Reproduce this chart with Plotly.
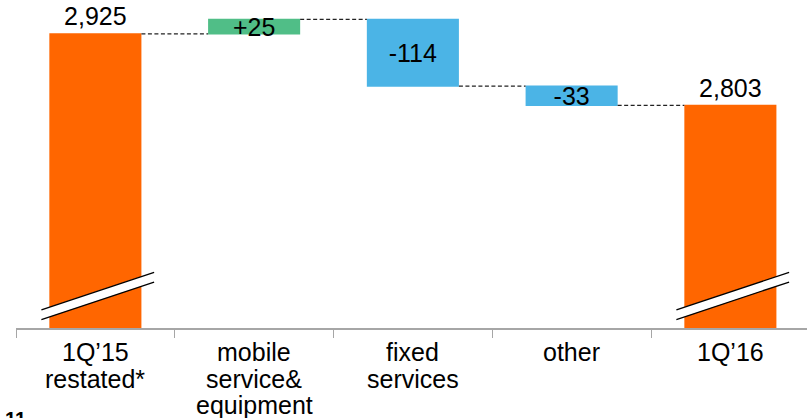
import plotly.graph_objects as go

# ---- data ----
categories = ["1Q’15 restated*", "mobile service& equipment", "fixed services", "other", "1Q’16"]
label_lines = [["1Q’15", "restated*"], ["mobile", "service&", "equipment"], ["fixed", "services"], ["other"], ["1Q’16"]]
values = [2925, 25, -114, -33, 2803]
measures = ["absolute", "relative", "relative", "relative", "total"]
bar_text = ["2,925", "+25", "-114", "-33", "2,803"]
page_number = "11"

# ---- style ----
ORANGE = "#ff6600"
GREEN = "#50be87"
BLUE = "#4bb4e6"
FONT = "Liberation Sans"
Y_MIN, Y_MAX = 2423, 2983
W, H = 807, 418
ML, MB = 16, 90
PLOT_H = H - MB

xs = list(range(len(categories)))

fig = go.Figure()
fig.add_trace(go.Waterfall(
    x=xs,
    y=values,
    measure=measures,
    text=bar_text,
    textposition=["outside", "inside", "inside", "inside", "outside"],
    textangle=0,
    constraintext="none",
    textfont=dict(family=FONT, size=25, color="black"),
    insidetextanchor="middle",
    width=0.58,
    increasing=dict(marker=dict(color=GREEN, line=dict(width=0))),
    decreasing=dict(marker=dict(color=BLUE, line=dict(width=0))),
    totals=dict(marker=dict(color=ORANGE, line=dict(width=0))),
    connector=dict(mode="between", line=dict(color="#222222", width=1.2, dash="4px,2.5px")),
    hoverinfo="skip",
))

# axis-break marks on the two total bars
shapes = []
for i, m in enumerate(measures):
    if m == "relative":
        continue
    x0, x1 = i - 0.34, i + 0.37
    ya, yb = 2454, 2518
    gap = 16.5
    shapes.append(dict(type="path", xref="x", yref="y",
                       path=f"M {x0},{ya} L {x1},{yb} L {x1},{yb - gap} L {x0},{ya - gap} Z",
                       fillcolor="white", line=dict(width=0), layer="above"))
    for off in (0, gap):
        shapes.append(dict(type="line", xref="x", yref="y", x0=x0, y0=ya - off, x1=x1, y1=yb - off,
                           line=dict(color="black", width=1.3), layer="above"))

# category labels (line by line for tight spacing)
annotations = []
baseline0 = 361
line_step = 26.2
for i, lines in enumerate(label_lines):
    for j, t in enumerate(lines):
        base_px = baseline0 + j * line_step
        center_px = base_px - 8.7
        annotations.append(dict(text=t, x=i, xref="x", y=(PLOT_H - center_px) / PLOT_H, yref="paper",
                                yanchor="middle", xanchor="center", showarrow=False,
                                font=dict(family=FONT, size=25, color="black")))

annotations.append(dict(text=f"<b>{page_number}</b>", x=(3 - ML) / (W - ML), xref="paper", xanchor="left",
                        y=(PLOT_H - 406) / PLOT_H, yref="paper", yanchor="top", showarrow=False,
                        font=dict(family=FONT, size=20, color="black")))

step = 158.75
fig.update_layout(
    width=W, height=H,
    margin=dict(l=ML, r=0, t=0, b=MB, pad=0),
    paper_bgcolor="white", plot_bgcolor="white",
    showlegend=False,
    shapes=shapes,
    annotations=annotations,
    xaxis=dict(
        range=[-0.5, -0.5 + (W - ML) / step],
        tickmode="array",
        tickvals=[i - 0.5 for i in range(len(categories) + 1)],
        showticklabels=False,
        ticks="outside", ticklen=8, tickcolor="#a6a6a6", tickwidth=1.2,
        showline=True, linecolor="#a6a6a6", linewidth=1.5,
        showgrid=False, zeroline=False, fixedrange=True,
    ),
    yaxis=dict(range=[Y_MIN, Y_MAX], visible=False, showgrid=False, zeroline=False, fixedrange=True),
)

fig.write_html("out.html", config={"displayModeBar": False})
